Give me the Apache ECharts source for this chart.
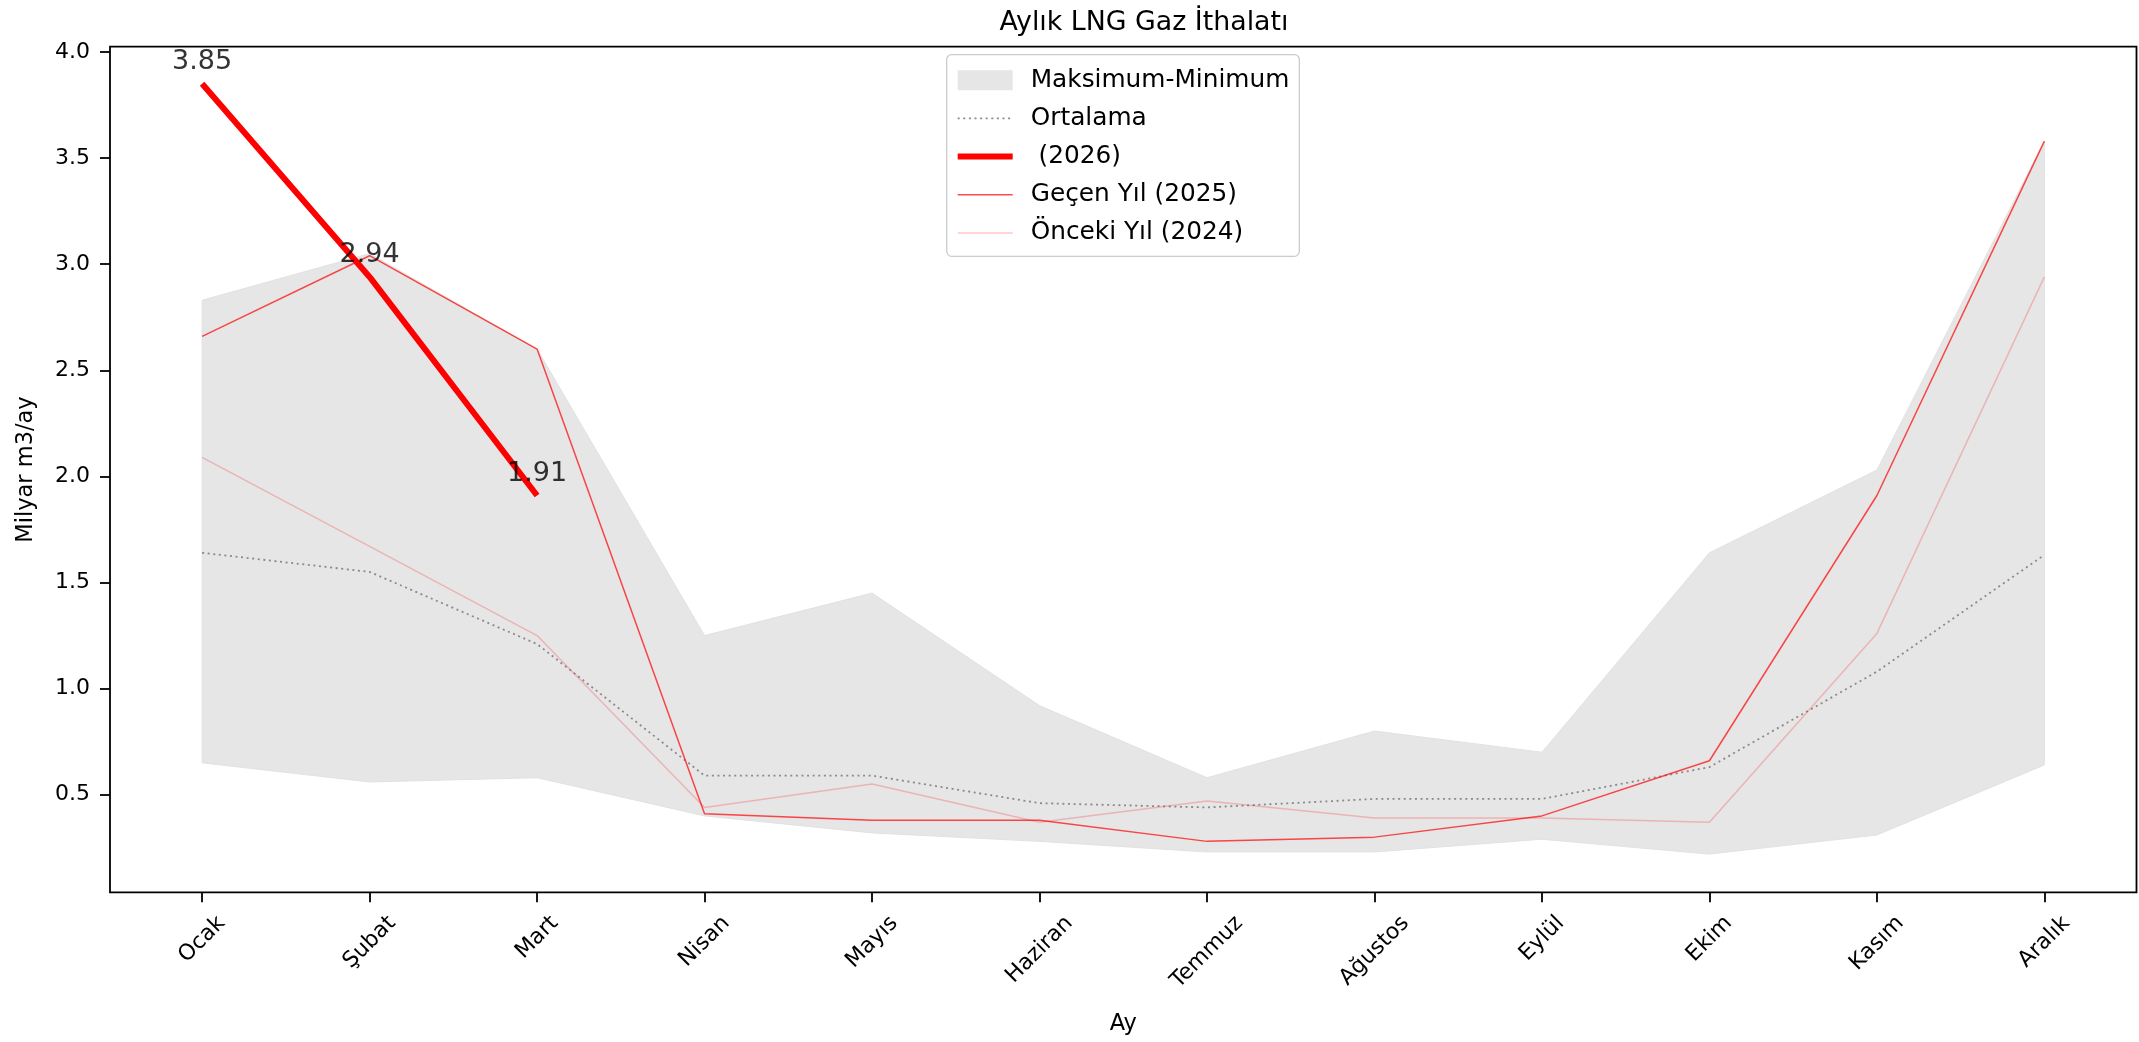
<!DOCTYPE html>
<html><head><meta charset="utf-8">
<script src="https://cdn.jsdelivr.net/npm/echarts@6/dist/echarts.min.js"></script>
<style>html,body{margin:0;padding:0;background:#fff}#c{width:2139px;height:1042px}</style>
</head><body><div id="c"></div>
<script>
// ---- data ----
const months = ['Ocak','Şubat','Mart','Nisan','Mayıs','Haziran','Temmuz','Ağustos','Eylül','Ekim','Kasım','Aralık'];
const maxVals = [2.83, 3.05, 2.60, 1.25, 1.45, 0.92, 0.58, 0.80, 0.70, 1.64, 2.03, 3.58];
const minVals = [0.65, 0.56, 0.58, 0.40, 0.32, 0.28, 0.23, 0.23, 0.29, 0.22, 0.31, 0.64];
const avgVals = [1.64, 1.55, 1.21, 0.59, 0.59, 0.46, 0.44, 0.48, 0.48, 0.63, 1.08, 1.63];
const y2026 = [3.85, 2.94, 1.91];
const y2025 = [2.66, 3.04, 2.60, 0.41, 0.38, 0.38, 0.28, 0.30, 0.40, 0.66, 1.91, 3.58];
const y2024 = [2.09, 1.67, 1.25, 0.44, 0.55, 0.37, 0.47, 0.39, 0.39, 0.37, 1.26, 2.94];
const yTickValues = [0.5, 1.0, 1.5, 2.0, 2.5, 3.0, 3.5, 4.0];
const xTickValues = months.map((m, i) => i);

// ---- layout helpers ----
const FONT = '"DejaVu Sans", sans-serif';
const xy = arr => arr.map((v, i) => [i, v]);

const ctx = document.createElement('canvas').getContext('2d');
ctx.font = '22px "DejaVu Sans"';
const widths = months.map(m => ctx.measureText(m).width);
const wmin = Math.min(...widths);
const rich = {};
months.forEach((m, i) => {
  const p = 0.5 * (widths[i] - wmin);
  rich['m' + i] = { fontSize: 22, fontFamily: FONT, color: '#000', padding: [p, p, 0, 0] };
});
const baseMargin = 47.2 + 0.354 * (wmin - widths[0]);

const chart = echarts.init(document.getElementById('c'), null, { renderer: 'canvas' });
chart.setOption({
  animation: false,
  backgroundColor: '#fff',
  title: {
    text: 'Aylık LNG Gaz İthalatı', left: 1139, top: 5, textAlign: 'center',
    textStyle: { fontSize: 26.8, fontWeight: 'normal', fontFamily: FONT, color: '#000' }
  },
  legend: {
    orient: 'vertical', left: 946.7, top: 54.6, padding: [13.1, 10, 10.8, 8],
    itemWidth: 55, itemHeight: 20, itemGap: 13.2,
    backgroundColor: 'rgba(255,255,255,0.8)', borderColor: '#cccccc', borderWidth: 1.3, borderRadius: 5,
    itemStyle: { opacity: 0 },
    textStyle: { fontSize: 24.8, fontFamily: FONT, color: '#000', lineHeight: 20, padding: [0, 0, 0, 13] },
    selectedMode: false,
    data: [
      { name: 'Maksimum-Minimum', icon: 'rect', itemStyle: { opacity: 1, color: '#e6e6e6' } },
      { name: 'Ortalama', lineStyle: { width: 1.8 } },
      { name: ' (2026)', lineStyle: { width: 6 } },
      { name: 'Geçen Yıl (2025)', lineStyle: { width: 1.5 } },
      { name: 'Önceki Yıl (2024)', lineStyle: { width: 1.5 } }
    ]
  },
  grid: {
    left: 110, right: 2.5, top: 46.7, bottom: 149.7, show: true,
    borderColor: '#000', borderWidth: 1.8, backgroundColor: 'transparent',
    containLabel: false, outerBoundsMode: 'none'
  },
  xAxis: {
    type: 'value', min: -0.55, max: 11.55,
    splitLine: { show: false }, axisLine: { show: false, onZero: false },
    axisTick: { show: true, customValues: xTickValues, length: 10, lineStyle: { color: '#000', width: 1.8 } },
    axisLabel: {
      customValues: xTickValues, rotate: 45, align: 'center', verticalAlign: 'middle',
      margin: baseMargin, formatter: v => '{m' + v + '|' + months[v] + '}', rich: rich
    },
    name: 'Ay', nameLocation: 'middle', nameGap: 120,
    nameTextStyle: { fontSize: 22.5, fontFamily: FONT, color: '#000' }
  },
  yAxis: {
    type: 'value', min: 0.04, max: 4.025,
    splitLine: { show: false }, axisLine: { show: false, onZero: false },
    axisTick: { show: true, customValues: yTickValues, length: 10, lineStyle: { color: '#000', width: 1.8 } },
    axisLabel: { customValues: yTickValues, formatter: v => v.toFixed(1), margin: 20, fontSize: 22, fontFamily: FONT, color: '#000' },
    name: 'Milyar m3/ay', nameLocation: 'middle', nameRotate: 90, nameGap: 72,
    nameTextStyle: { fontSize: 22.5, fontFamily: FONT, color: '#000' }
  },
  series: [
    { name: 'Maksimum-Minimum', type: 'custom', silent: true, z: 1,
      data: [[0, maxVals[0]]], encode: { x: 0, y: 1 },
      itemStyle: { color: '#e6e6e6' },
      renderItem: (params, api) => {
        const top = maxVals.map((v, i) => api.coord([i, v]));
        const bottom = minVals.map((v, i) => api.coord([i, v])).reverse();
        return { type: 'polygon', shape: { points: top.concat(bottom) },
          style: { fill: '#e6e6e6', stroke: '#e2e2e2', lineWidth: 1 } };
      } },
    { name: 'Ortalama', type: 'line', data: xy(avgVals), symbol: 'none', z: 2,
      lineStyle: { color: '#8a8a8a', width: 1.8, type: [2, 3.6] }, itemStyle: { color: '#8a8a8a' } },
    { name: ' (2026)', type: 'line', data: xy(y2026), symbol: 'none', z: 2,
      lineStyle: { color: '#ff0000', width: 6 }, itemStyle: { color: '#ff0000' } },
    { name: 'Geçen Yıl (2025)', type: 'line', data: xy(y2025), symbol: 'none', z: 2,
      lineStyle: { color: 'rgba(255,0,0,0.7)', width: 1.5 }, itemStyle: { color: 'rgba(255,0,0,0.7)' } },
    { name: 'Önceki Yıl (2024)', type: 'line', data: xy(y2024), symbol: 'none', z: 2,
      lineStyle: { color: 'rgba(255,0,0,0.22)', width: 1.5 }, itemStyle: { color: 'rgba(255,0,0,0.22)' } },
    { name: 'lbl', type: 'scatter', data: xy(y2026), symbolSize: 1, z: 5, silent: true,
      itemStyle: { color: 'rgba(0,0,0,0)' },
      label: { show: true, position: 'top', distance: 8, formatter: p => p.value[1].toFixed(2),
        fontSize: 27, fontFamily: FONT, color: '#000' } }
  ]
});
</script></body></html>
